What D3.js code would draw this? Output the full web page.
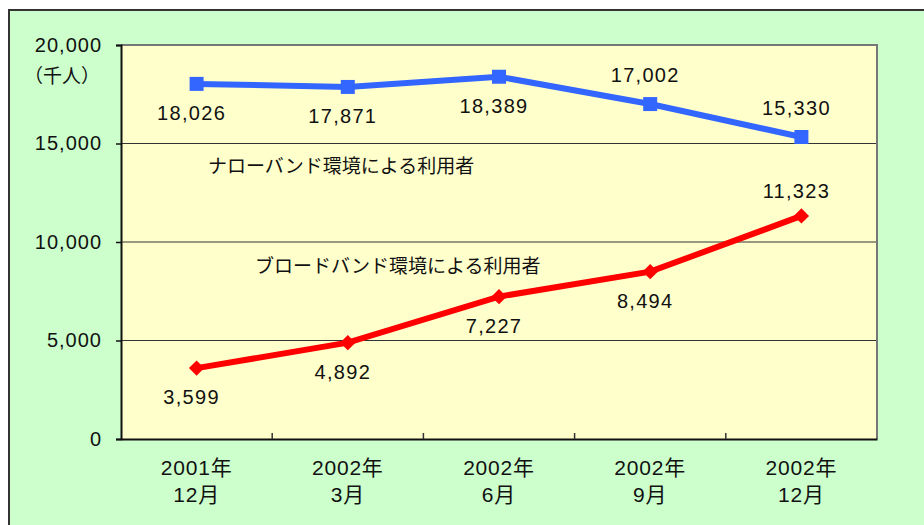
<!DOCTYPE html>
<html><head><meta charset="utf-8">
<script src="https://cdn.jsdelivr.net/npm/d3@7"></script>
<style>
body{margin:0;background:#fff;}
text{font-family:"Liberation Sans","Noto Sans CJK JP",sans-serif;fill:#111;}
</style></head>
<body><svg id="c" width="924" height="525"></svg>
<script>
const categories = [["2001年","12月"],["2002年","3月"],["2002年","6月"],["2002年","9月"],["2002年","12月"]];
const narrowband = [18026, 17871, 18389, 17002, 15330];
const broadband = [3599, 4892, 7227, 8494, 11323];
const narrowPos = ["below","below","below","above","above"];
const broadPos = ["below","below","below","below","above"];
const yTicks = [0, 5000, 10000, 15000, 20000];
const seriesNames = ["ナローバンド環境による利用者","ブロードバンド環境による利用者"];
const unitLabel = "（千人）";

const svg = d3.select("#c");
const L=121, R=877, T=45, B=439;
svg.append("rect").attr("x",9).attr("y",10).attr("width",930).attr("height",530)
  .attr("fill","#ccffcc").attr("stroke","#333").attr("stroke-width",2);
svg.append("rect").attr("x",L).attr("y",T).attr("width",R-L).attr("height",B-T).attr("fill","#ffffcc");

const x = d3.scaleBand().domain(d3.range(categories.length)).range([L,R]);
const y = d3.scaleLinear().domain([0,20000]).range([B,T]);
const fmt = d3.format(",");

svg.append("g").selectAll("line").data(yTicks.filter(v=>v>0&&v<20000)).join("line")
  .attr("x1",L).attr("x2",R).attr("y1",d=>y(d)).attr("y2",d=>y(d)).attr("stroke","#333").attr("stroke-width",1);
svg.append("path").attr("d",`M${L},${T}H${R}V${B}`).attr("fill","none").attr("stroke","#777").attr("stroke-width",2);

const yAxis = svg.append("g").attr("transform",`translate(${L},0)`)
  .call(d3.axisLeft(y).tickValues(yTicks).tickFormat(fmt).tickSize(5).tickPadding(14));
yAxis.select(".domain").attr("stroke","#111").attr("stroke-width",2);
yAxis.selectAll(".tick line").attr("stroke","#111").attr("stroke-width",1.5);
yAxis.selectAll(".tick text").attr("font-size",20).attr("letter-spacing",1).attr("fill","#111")
  .style("font-family","Liberation Sans, sans-serif");
svg.append("text").attr("x",100).attr("y",83).attr("text-anchor","end").attr("font-size",19).text(unitLabel);

const xAxis = svg.append("g").attr("transform",`translate(0,${B})`)
  .call(d3.axisBottom(x).tickSize(0).tickFormat(""));
xAxis.select(".domain").attr("stroke","#111").attr("stroke-width",2);
svg.append("g").selectAll("line").data(d3.range(1,categories.length)).join("line")
  .attr("x1",d=>x(d)).attr("x2",d=>x(d)).attr("y1",B).attr("y2",B-6).attr("stroke","#333").attr("stroke-width",1.5);
const xl = svg.append("g").selectAll("text").data(categories).join("text")
  .attr("text-anchor","middle").attr("font-size",21).attr("letter-spacing",0.8)
  .attr("x",(d,i)=>x(i)+x.bandwidth()/2);
xl.append("tspan").attr("x",(d,i)=>x(i)+x.bandwidth()/2).attr("y",475).text(d=>d[0]);
xl.append("tspan").attr("x",(d,i)=>x(i)+x.bandwidth()/2).attr("y",502).text(d=>d[1]);

const cx = i => x(i)+x.bandwidth()/2;
const line = d3.line().x((d,i)=>cx(i)).y(d=>y(d));

function series(vals,color,shape,pos,aboveDy){
  svg.append("path").datum(vals).attr("d",line).attr("fill","none").attr("stroke",color).attr("stroke-width",6);
  const g = svg.append("g");
  if(shape==="square"){
    g.selectAll("rect").data(vals).join("rect").attr("x",(d,i)=>cx(i)-7).attr("y",d=>y(d)-7)
      .attr("width",14).attr("height",14).attr("fill",color);
  } else {
    g.selectAll("path").data(vals).join("path").attr("d",d3.symbol(d3.symbolDiamond2,150))
      .attr("transform",(d,i)=>`translate(${cx(i)},${y(d)})`).attr("fill",color);
  }
  svg.append("g").selectAll("text").data(vals).join("text")
    .attr("x",(d,i)=>cx(i)-5).attr("y",(d,i)=>y(d)+(pos[i]==="above"?aboveDy:36))
    .attr("text-anchor","middle").attr("font-size",20).attr("letter-spacing",1.3).text(d=>fmt(d));
}
series(narrowband,"#3366ff","square",narrowPos,-22);
series(broadband,"#ff0000","diamond",broadPos,-18);

svg.append("text").attr("x",208).attr("y",173).attr("font-size",19).text(seriesNames[0]);
svg.append("text").attr("x",255).attr("y",273).attr("font-size",19).text(seriesNames[1]);
</script></body></html>
